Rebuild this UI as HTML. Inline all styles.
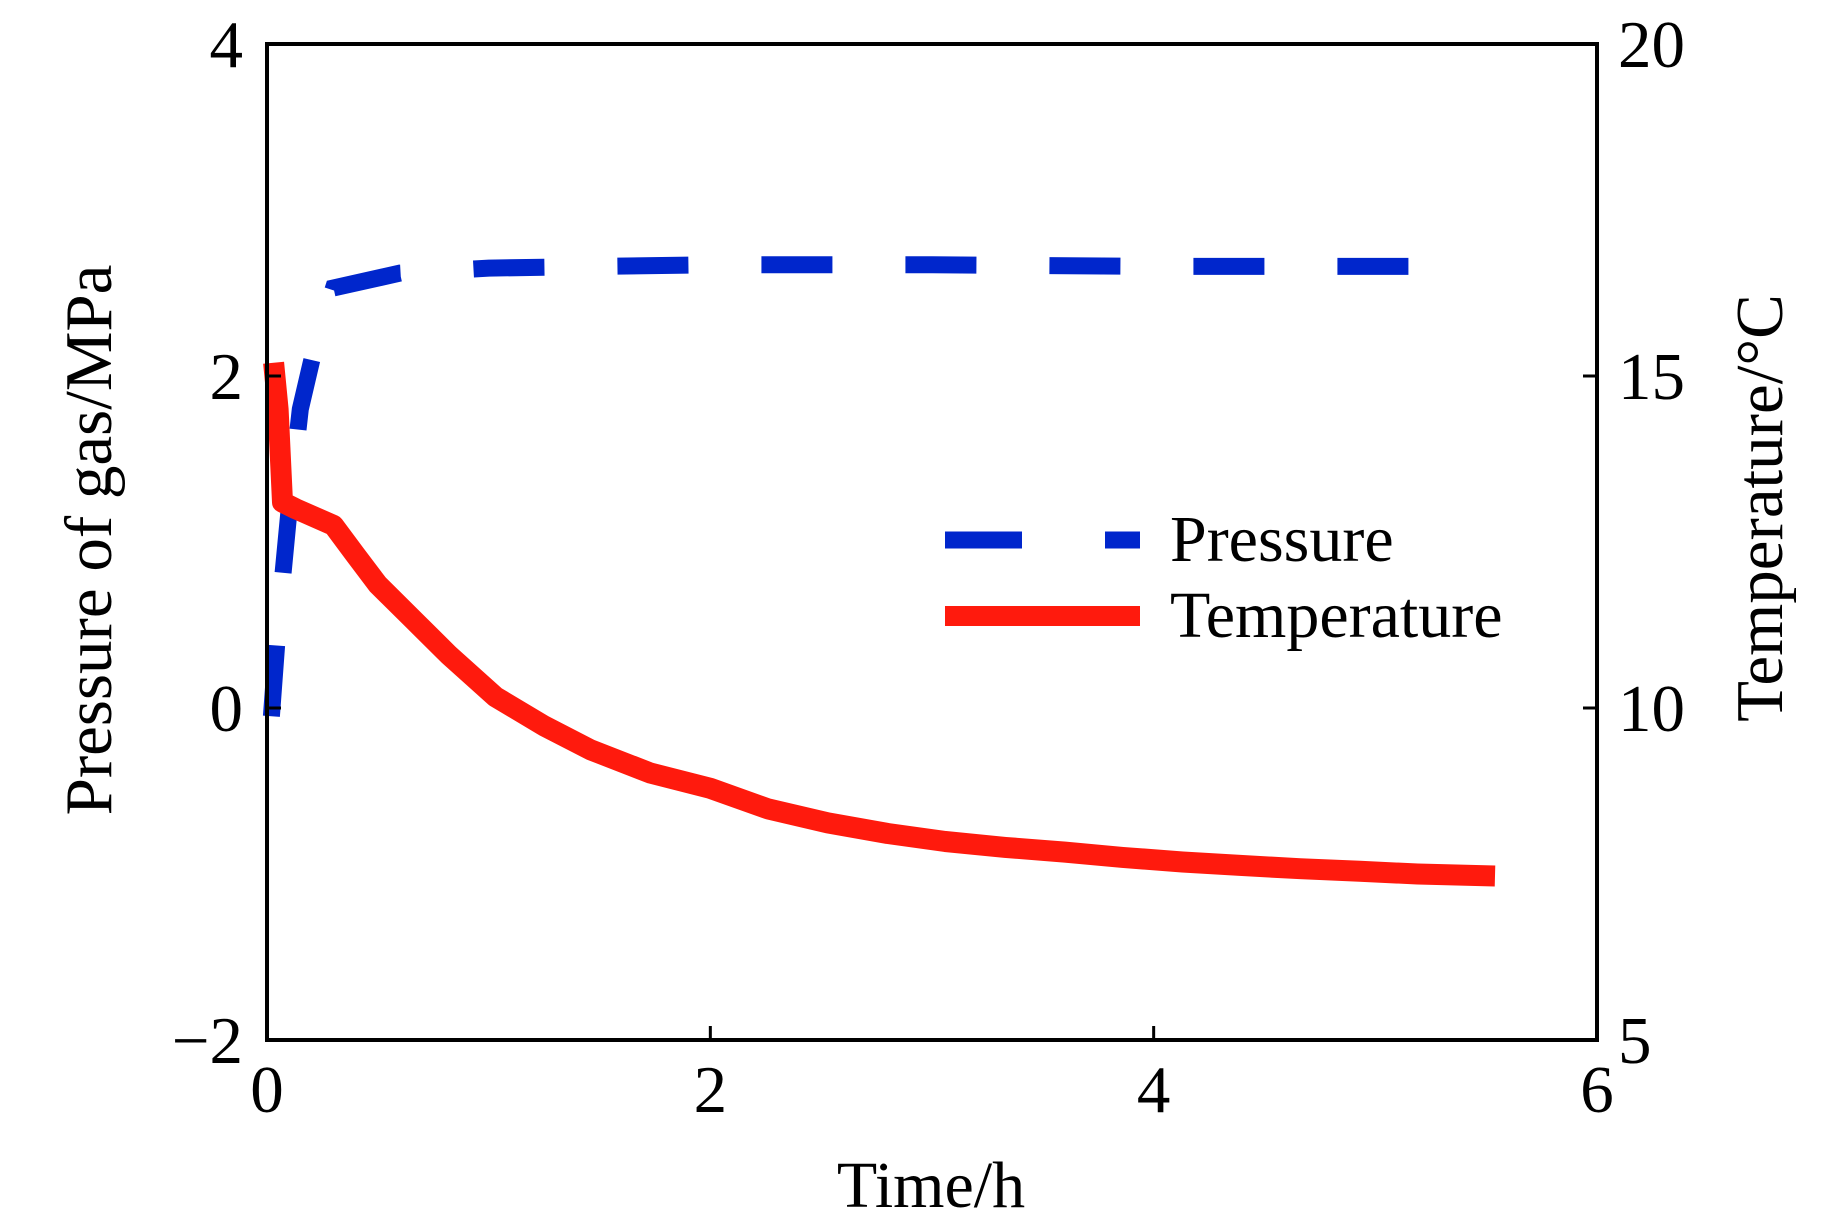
<!DOCTYPE html>
<html><head><meta charset="utf-8"><style>
html,body{margin:0;padding:0;background:#fff;}
svg{display:block;font-family:"Liberation Serif",serif;}
</style></head><body>
<svg id="chart" width="1843" height="1228" viewBox="0 0 1843 1228" xmlns="http://www.w3.org/2000/svg">
<g id="marks"></g>
<g id="axes"></g>
</svg>
<script>
const timeP = [0.02, 0.05, 0.1, 0.15, 0.22, 0.3, 0.6, 1.0, 2.0, 3.0, 4.0, 5.27];
const pressure = [-0.05, 0.5, 1.2, 1.8, 2.2, 2.53, 2.62, 2.65, 2.67, 2.67, 2.66, 2.66];
const timeT = [0.03, 0.05, 0.07, 0.13, 0.3, 0.4, 0.5, 0.66, 0.82, 1.03, 1.25, 1.46, 1.73, 2.0, 2.26, 2.53, 2.8, 3.06, 3.33, 3.6, 3.86, 4.13, 4.39, 4.66, 4.93, 5.19, 5.54];
const temperature = [15.2, 14.5, 13.1, 13.0, 12.75, 12.3, 11.86, 11.33, 10.8, 10.17, 9.73, 9.37, 9.02, 8.79, 8.48, 8.27, 8.11, 7.99, 7.9, 7.83, 7.75, 7.68, 7.63, 7.58, 7.54, 7.5, 7.47];
const xTicks = [0, 2, 4, 6];
const yLeftTicks = [-2, 0, 2, 4];
const yRightTicks = [5, 10, 15, 20];

const L=267, R=1597, T=44, B=1040;
const x = t => L + (t-0)/(6-0)*(R-L);
const yL = v => B - (v+2)/6*(B-T);
const yR = v => B - (v-5)/15*(B-T);
const NS="http://www.w3.org/2000/svg";
function mk(tag, attrs, parent){const e=document.createElementNS(NS,tag);for(const k in attrs)e.setAttribute(k,attrs[k]);parent.appendChild(e);return e;}
const marks=document.getElementById('marks'), axes=document.getElementById('axes');

let d=timeP.map((t,i)=>(i?'L':'M')+x(t).toFixed(1)+','+yL(pressure[i]).toFixed(1)).join(' ');
const pl=mk('path',{d:d,fill:'none',stroke:'#0026cc','stroke-width':17,'stroke-dasharray':'71 73'},marks);


d=timeT.map((t,i)=>(i?'L':'M')+x(t).toFixed(1)+','+yR(temperature[i]).toFixed(1)).join(' ');
const tl=mk('path',{d:d,fill:'none',stroke:'#ff1a0d','stroke-width':21,'stroke-linejoin':'round'},marks);



const frame=mk('rect',{x:L,y:T,width:R-L,height:B-T,fill:'none',stroke:'#000','stroke-width':4},axes);



xTicks.forEach(v=>{
  mk('line',{x1:x(v),x2:x(v),y1:B,y2:B-14,stroke:'#000','stroke-width':3},axes);
  const t=mk('text',{x:x(v),y:1112,'font-size':67,'text-anchor':'middle'},axes);t.textContent=v;
  
  
});
yLeftTicks.forEach(v=>{
  mk('line',{x1:L,x2:L+14,y1:yL(v),y2:yL(v),stroke:'#000','stroke-width':3},axes);
  const t=mk('text',{x:243,y:yL(v)+23,'font-size':67,'text-anchor':'end'},axes);t.textContent=v<0?'\u2212'+(-v):v;
  
  
});
yRightTicks.forEach(v=>{
  mk('line',{x1:R,x2:R-14,y1:yR(v),y2:yR(v),stroke:'#000','stroke-width':3},axes);
  const t=mk('text',{x:1618,y:yR(v)+23,'font-size':67,'text-anchor':'start'},axes);t.textContent=v;
  
  
});
</script>
<svg style="position:absolute;left:0;top:0" width="1843" height="1228" viewBox="0 0 1843 1228" font-family="Liberation Serif, serif">
<text x="931" y="1207" font-size="66" text-anchor="middle">Time/h</text>
<text transform="translate(111,540) rotate(-90)" font-size="67" text-anchor="middle">Pressure of gas/MPa</text>
<text transform="translate(1782,508) rotate(-90)" font-size="67" text-anchor="middle">Temperature/°C</text>
<g>
<line x1="945" y1="540" x2="1140" y2="540" stroke="#0026cc" stroke-width="17" stroke-dasharray="77 83"/>
<text x="1170" y="561" font-size="66">Pressure</text>
<line x1="945" y1="616" x2="1140" y2="616" stroke="#ff1a0d" stroke-width="20"/>
<text x="1170" y="637" font-size="66">Temperature</text>
</g>
</svg>
</body></html>
